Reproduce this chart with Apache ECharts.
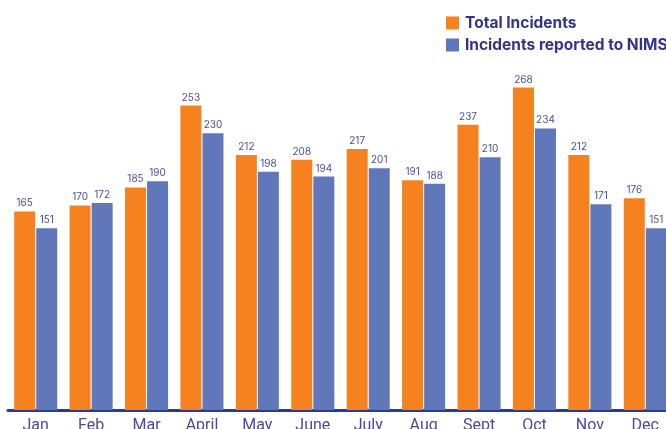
<!DOCTYPE html>
<html><head><meta charset="utf-8">
<script src="https://cdn.jsdelivr.net/npm/echarts@6/dist/echarts.min.js"></script>
<style>html,body{margin:0;padding:0;background:#fff;overflow:hidden}#c{width:666px;height:429px}</style>
</head><body><div id="c"></div>
<script>
const months = ['Jan','Feb','Mar','April','May','June','July','Aug','Sept','Oct','Nov','Dec'];
const totalIncidents = [165,170,185,253,212,208,217,191,237,268,212,176];
const reportedToNIMS = [151,172,190,230,198,194,201,188,210,234,171,151];
const seriesNames = ['Total Incidents','Incidents reported to NIMS'];

const chart = echarts.init(document.getElementById('c'));
const lbl = {show:true, position:'top', distance:3, color:'#4b4e9c', fontSize:10, fontFamily:'Inter'};
chart.setOption({
  animation:false,
  legend:{
    orient:'vertical', left:441, top:10, itemWidth:13, itemHeight:13, itemGap:6,
    icon:'rect',
    textStyle:{color:'#33338a', fontSize:15.5, fontWeight:'bold', fontFamily:'Inter', padding:[0,0,0,1]},
    data:seriesNames
  },
  grid:{left:8, width:665, top:49, height:361, containLabel:false, outerBoundsMode:'none'},
  xAxis:{
    type:'category', data:months,
    axisLine:{lineStyle:{color:'#2b3990', width:3}},
    axisTick:{show:false},
    axisLabel:{color:'#4a4a9e', fontSize:16, fontFamily:'Roboto', margin:8, interval:0}
  },
  yAxis:{type:'value', min:0, max:300, show:false, splitLine:{show:false}},
  series:[
    {name:seriesNames[0], type:'bar', data:totalIncidents, barWidth:21, barGap:'5%',
     itemStyle:{color:'#f5821f'}, label:lbl},
    {name:seriesNames[1], type:'bar', data:reportedToNIMS, barWidth:21,
     itemStyle:{color:'#6077b9'}, label:lbl}
  ]
});
</script></body></html>
